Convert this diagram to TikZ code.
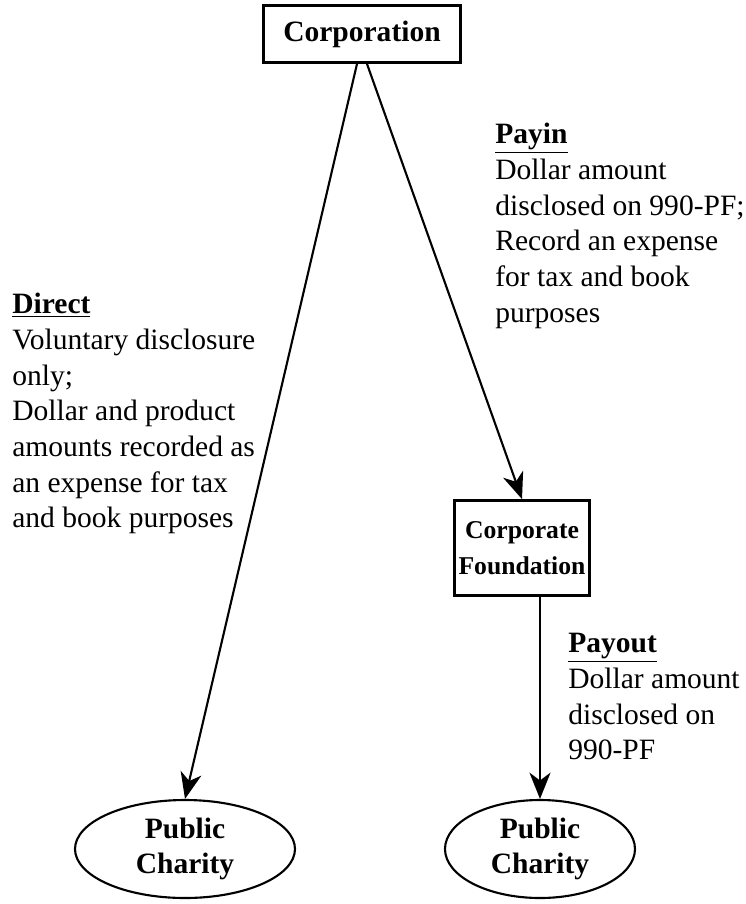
\documentclass[tikz,border=0pt]{standalone}
\usepackage{fontspec}
\setmainfont{Liberation Serif}
\usepackage{tikz}
\usetikzlibrary{arrows.meta,shapes.geometric}

\newcommand{\diagfont}{\fontsize{16.8}{20.3}\selectfont}
\newcommand{\boxfont}{\fontsize{14.6}{20.3}\selectfont}

\tikzset{
  box/.style={draw, line width=1.6pt, rectangle, align=center, font=\diagfont\bfseries},
  charity/.style={draw, line width=1.2pt, ellipse, inner sep=0pt, align=center, font=\diagfont\bfseries},
  note/.style={anchor=north west, inner sep=0pt, align=left, font=\diagfont},
  flow/.style={line width=1.2pt, -{Stealth[length=15pt, width=12pt, inset=4.5pt]}}
}

\begin{document}
\begin{tikzpicture}[x=0.02cm, y=-0.02cm]
            \useasboundingbox (0,0) rectangle (746,904);
            \node[box, minimum width=197*0.02cm, minimum height=57*0.02cm] (corp) at (362,34) {Corporation};
            \node[box, font=\boxfont\bfseries, inner sep=0pt, minimum width=135*0.02cm, minimum height=95*0.02cm] (found) at (522,548) {Corporate\\Foundation};
            \node[charity, minimum width=220*0.02cm, minimum height=98*0.02cm] (pc1) at (185,849) {Public\\Charity};
            \node[charity, minimum width=190*0.02cm, minimum height=98*0.02cm] (pc2) at (540,849) {Public\\Charity};

            \draw[flow] ([xshift=-5*0.02cm]corp.south) -- (pc1.north);
            \draw[flow] ([xshift=5*0.02cm]corp.south) -- (found.north);
            \draw[flow] (found.south -| pc2.north) -- (pc2.north);

            % side notes
            \node[note] (direct) at (12,293) {\underline{\textbf{Direct}}\\Voluntary disclosure\\only;\\Dollar and product\\amounts recorded as\\an expense for tax\\and book purposes};
            \node[note] (payin) at (495,123) {\underline{\textbf{Payin}}\\Dollar amount\\disclosed on 990-PF;\\Record an expense\\for tax and book\\purposes};
            \node[note] (payout) at (568,633) {\underline{\textbf{Payout}}\\Dollar amount\\disclosed on\\990-PF};
        \end{tikzpicture}
\end{document}
